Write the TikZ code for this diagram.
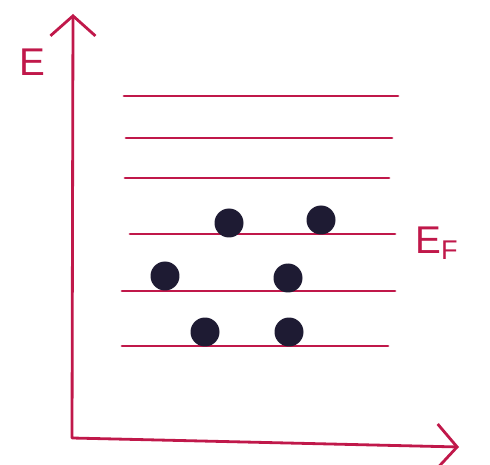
\documentclass[tikz,border=0pt]{standalone}
\usepackage{fontspec}
\setmainfont{Liberation Sans}
\usetikzlibrary{arrows.meta}
\definecolor{ink}{HTML}{C0184A}
\definecolor{dotink}{HTML}{1E1B33}

\begin{document}
\begin{tikzpicture}[x=0.02cm, y=-0.02cm, line width=1.6pt, draw=ink,
    level/.style={draw=ink, line width=1.6pt, line cap=round},
    electron/.style={circle, fill=dotink, minimum size=0.58cm, inner sep=0pt},
    label/.style={text=ink, font=\fontsize{22}{22}\selectfont}]
    \useasboundingbox (0,0) rectangle (490,465);
    % axes
    \coordinate (ytip) at (73,14);
    \coordinate (origin) at (72,438);
    \coordinate (xtip) at (459,447);
    \draw[ink, line cap=round, line join=round,
          {Straight Barb[length=0.4cm, width=0.9cm]}-{Straight Barb[length=0.4cm, width=0.9cm]}]
          (ytip) -- (origin) -- (xtip);
    \node[label] (elabel) at (32,62) {E};
    % energy levels
    \foreach \name/\xa/\xb/\yy in {l1/124/398/96, l2/126/392/138, l3/125/389/178,
                                   l4/130/395/234, l5/122/395/291, l6/122/388/346} {
      \coordinate (\name a) at (\xa,\yy);
      \coordinate (\name b) at (\xb,\yy);
      \draw[level] (\name a) -- (\name b);
    }
    \node[label] (eflabel) at (437,243) {E\textsubscript{F}};
    % electrons
    \node[electron] (e1) at (229,223) {};
    \node[electron] (e2) at (321,220) {};
    \node[electron] (e3) at (165,276) {};
    \node[electron] (e4) at (288,278) {};
    \node[electron] (e5) at (205,332) {};
    \node[electron] (e6) at (289,332) {};
  \end{tikzpicture}
\end{document}
